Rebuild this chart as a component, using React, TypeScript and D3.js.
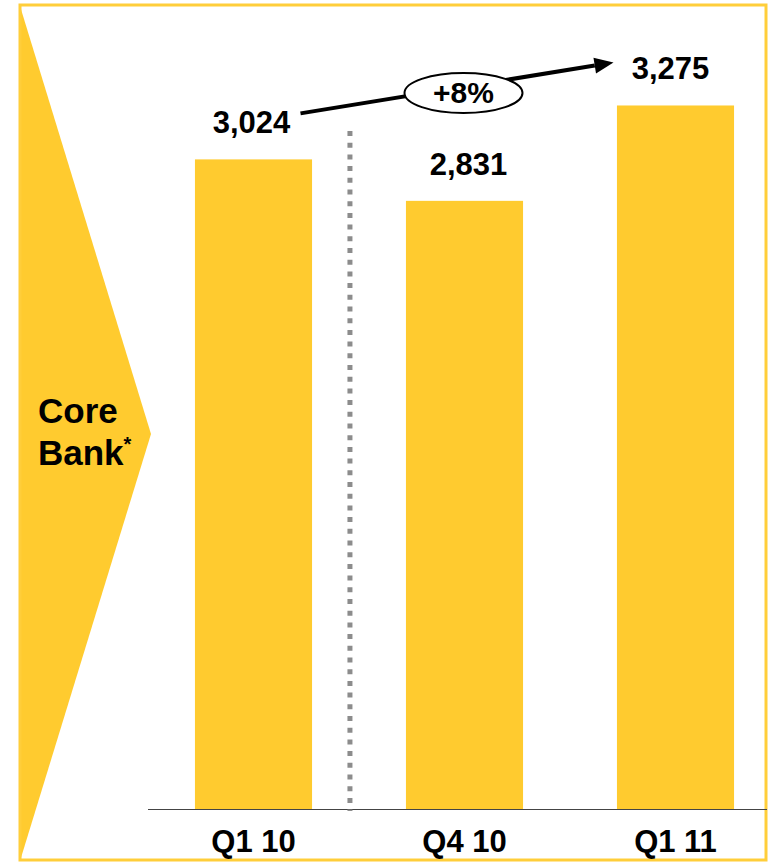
import React from "react";
import * as d3 from "d3";

const categories = ["Q1 10", "Q4 10", "Q1 11"];
const values = [3024, 2831, 3275];
const valueLabels = ["3,024", "2,831", "3,275"];
const growthLabel = "+8%";
const segmentTitle = ["Core", "Bank"];

const W = 776;
const H = 863;
const YELLOW = "#FFCB2F";
const FONT = "'Liberation Sans', Arial, sans-serif";

export default function App() {
  const x = d3
    .scaleBand<string>()
    .domain(categories)
    .range([148, 781])
    .paddingInner(0.445)
    .paddingOuter(0.2225);
  const y = d3.scaleLinear().domain([0, 3766]).range([809, 0]);
  const bw = x.bandwidth();
  const cx = (c: string) => (x(c) as number) + bw / 2;

  const labelOffsets = [-2, 4, -5];

  // growth arrow
  const x0 = cx(categories[0]) + 47;
  const y0 = y(values[0]) - 46;
  const x1 = cx(categories[2]) - 62;
  const y1 = y(values[2]) - 43;
  const ang = Math.atan2(y1 - y0, x1 - x0);
  const headLen = 19;
  const headW = 8;
  const bx = x1 - headLen * Math.cos(ang);
  const by = y1 - headLen * Math.sin(ang);
  const px = -Math.sin(ang) * headW;
  const py = Math.cos(ang) * headW;
  const ex = cx(categories[1]) - 1;
  const ey = 93;

  const dividerX = (x(categories[1]) as number) - 56;

  return (
    <svg
      width={W}
      height={H}
      style={{ position: "absolute", left: 0, top: 0, background: "#fff" }}
      fontFamily={FONT}
    >
      {/* chevron */}
      <polygon points={`20,6 151,434 20,861`} fill={YELLOW} />
      {/* frame */}
      <rect x={20} y={5} width={746} height={855} fill="none" stroke="#FFCE3A" strokeWidth={3} />

      <text fontWeight="bold" fontSize={35} fill="#000">
        <tspan x={38} y={423}>{segmentTitle[0]}</tspan>
        <tspan x={38} y={465}>{segmentTitle[1]}</tspan>
        <tspan fontSize={20} dy={-14}>*</tspan>
      </text>

      {/* bars */}
      {categories.map((c, i) => (
        <rect
          key={c}
          x={x(c)}
          y={y(values[i])}
          width={bw}
          height={y(0) - y(values[i])}
          fill={YELLOW}
        />
      ))}

      {/* baseline */}
      <line x1={148} x2={767} y1={y(0) + 0.5} y2={y(0) + 0.5} stroke="#444" strokeWidth={1.2} />

      {/* dotted divider */}
      <line
        x1={dividerX}
        x2={dividerX}
        y1={131}
        y2={y(0) + 2}
        stroke="#8c8c8c"
        strokeWidth={5}
        strokeDasharray="5 6.7"
      />

      {/* value labels */}
      {categories.map((c, i) => (
        <text
          key={c}
          x={cx(c) + labelOffsets[i]}
          y={y(values[i]) - 26}
          textAnchor="middle"
          fontWeight="bold"
          fontSize={31}
          fill="#000"
        >
          {valueLabels[i]}
        </text>
      ))}

      {/* category labels */}
      {categories.map((c) => (
        <text
          key={c}
          x={cx(c)}
          y={852}
          textAnchor="middle"
          fontWeight="bold"
          fontSize={31}
          fill="#000"
        >
          {c}
        </text>
      ))}

      {/* growth arrow */}
      <line x1={x0} y1={y0} x2={bx} y2={by} stroke="#000" strokeWidth={4} />
      <polygon
        points={`${x1},${y1} ${bx + px},${by + py} ${bx - px},${by - py}`}
        fill="#000"
      />
      <ellipse cx={ex} cy={ey} rx={59} ry={20} fill="#fff" stroke="#000" strokeWidth={2} />
      <text x={ex} y={ey + 10} textAnchor="middle" fontWeight="bold" fontSize={30} fill="#000">
        {growthLabel}
      </text>
    </svg>
  );
}
